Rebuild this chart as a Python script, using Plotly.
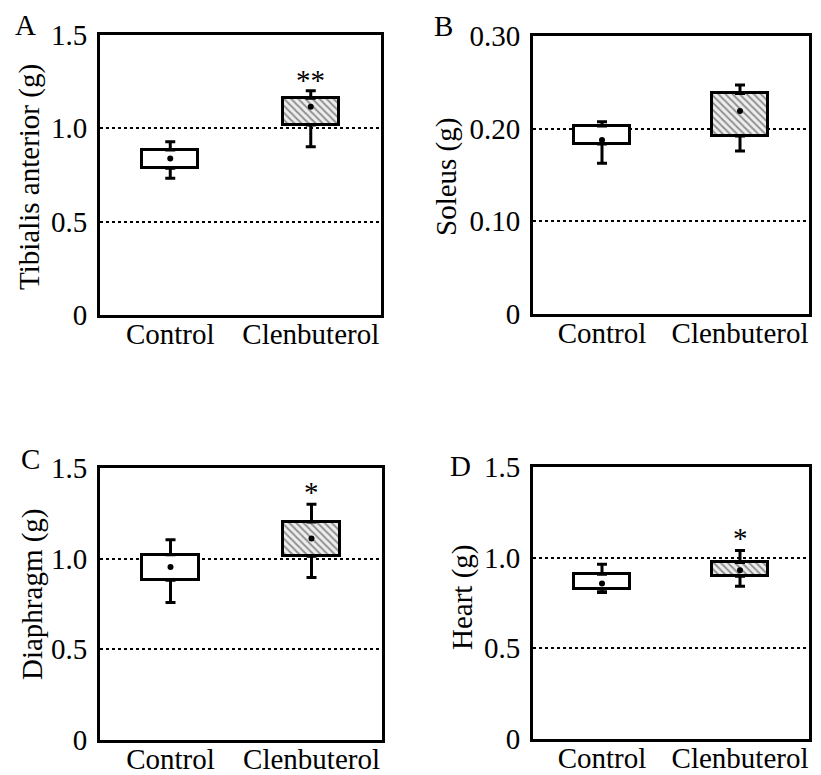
import plotly.graph_objects as go

categories = ["Control", "Clenbuterol"]

# Panel A: Tibialis anterior
ta_q1 = [0.786, 1.018]
ta_q3 = [0.884, 1.161]
ta_low = [0.732, 0.902]
ta_high = [0.928, 1.202]
ta_mean = [0.839, 1.116]

# Panel B: Soleus
so_q1 = [0.1834, 0.192]
so_q3 = [0.2029, 0.238]
so_low = [0.1626, 0.176]
so_high = [0.2075, 0.247]
so_mean = [0.1878, 0.219]

# Panel C: Diaphragm
di_q1 = [0.881, 1.013]
di_q3 = [1.022, 1.202]
di_low = [0.758, 0.896]
di_high = [1.105, 1.300]
di_mean = [0.954, 1.111]

# Panel D: Heart
he_q1 = [0.826, 0.897]
he_q3 = [0.909, 0.974]
he_low = [0.808, 0.843]
he_high = [0.964, 1.040]
he_mean = [0.857, 0.931]

ticks_std = [0, 0.5, 1.0, 1.5]
ticktext_std = ["0", "0.5", "1.0", "1.5"]
ticks_so = [0, 0.10, 0.20, 0.30]
ticktext_so = ["0", "0.10", "0.20", "0.30"]

OFF = 8  # page body margin
W, H = 821 - OFF, 775 - OFF
FONT = "Liberation Serif"
FS = 29


def px(x):
    return (x - OFF) / W


def py(y):
    return 1 - (y - OFF) / H


panels = [
    dict(letter="A", title="Tibialis anterior (g)", q1=ta_q1, q3=ta_q3, low=ta_low, high=ta_high, mean=ta_mean,
         tv=ticks_std, tt=ticktext_std, rng=[0, 1.5], box=(100, 381, 35, 315),
         star="**", star_y=1.275, title_xy=(30, 177), letter_xy=(25, 25)),
    dict(letter="B", title="Soleus (g)", q1=so_q1, q3=so_q3, low=so_low, high=so_high, mean=so_mean,
         tv=ticks_so, tt=ticktext_so, rng=[0, 0.30], box=(533, 809, 36, 314),
         star=None, star_y=None, title_xy=(447, 177), letter_xy=(443, 26)),
    dict(letter="C", title="Diaphragm (g)", q1=di_q1, q3=di_q3, low=di_low, high=di_high, mean=di_mean,
         tv=ticks_std, tt=ticktext_std, rng=[0, 1.5], box=(100, 382, 468, 740),
         star="*", star_y=1.386, title_xy=(32, 594), letter_xy=(30, 459)),
    dict(letter="D", title="Heart (g)", q1=he_q1, q3=he_q3, low=he_low, high=he_high, mean=he_mean,
         tv=ticks_std, tt=ticktext_std, rng=[0, 1.5], box=(533, 809, 467, 739),
         star="*", star_y=1.123, title_xy=(462, 598), letter_xy=(460, 466)),
]

fig = go.Figure()
annotations = []
layout = {}

for i, p in enumerate(panels):
    n = "" if i == 0 else str(i + 1)
    xa, ya = "x" + n, "y" + n
    x0, x1, y0, y1 = p["box"]
    xidx = list(range(len(categories)))
    heights = [b - a for a, b in zip(p["q1"], p["q3"])]
    fig.add_trace(go.Bar(
        x=xidx, y=heights, base=p["q1"], width=0.4,
        marker=dict(color="white", line=dict(color="black", width=3),
                    pattern=dict(shape=["", "\\"], fgcolor="#333333", bgcolor="#eeeeee",
                                 size=5, solidity=0.4)),
        xaxis=xa, yaxis=ya, showlegend=False, hoverinfo="skip"))
    fig.add_trace(go.Scatter(
        x=xidx, y=p["q3"], mode="markers", marker=dict(size=1, color="black"),
        error_y=dict(type="data", symmetric=False,
                     array=[h - q for h, q in zip(p["high"], p["q3"])],
                     arrayminus=[0] * len(xidx), thickness=3, width=5, color="black"),
        xaxis=xa, yaxis=ya, showlegend=False, hoverinfo="skip"))
    fig.add_trace(go.Scatter(
        x=xidx, y=p["q1"], mode="markers", marker=dict(size=1, color="black"),
        error_y=dict(type="data", symmetric=False,
                     array=[0] * len(xidx),
                     arrayminus=[q - l for q, l in zip(p["q1"], p["low"])], thickness=3, width=5, color="black"),
        xaxis=xa, yaxis=ya, showlegend=False, hoverinfo="skip"))
    fig.add_trace(go.Scatter(
        x=xidx, y=p["mean"], mode="markers", marker=dict(size=6, color="black"),
        xaxis=xa, yaxis=ya, showlegend=False, hoverinfo="skip"))

    layout["xaxis" + n] = dict(
        domain=[px(x0), px(x1)], anchor=ya, range=[-0.5, 1.5], automargin=False,
        tickvals=xidx, ticktext=categories, ticks="", showgrid=False, zeroline=False,
        showline=True, mirror=True, linewidth=3, linecolor="black",
        tickfont=dict(family=FONT, size=FS, color="black"), ticklabelstandoff=-9)
    layout["yaxis" + n] = dict(
        domain=[py(y1), py(y0)], anchor=xa, range=p["rng"], automargin=False,
        tickvals=p["tv"], ticktext=p["tt"], ticks="", showgrid=True, gridcolor="black",
        griddash="dot", gridwidth=2, zeroline=False,
        showline=True, mirror=True, linewidth=3, linecolor="black",
        tickfont=dict(family=FONT, size=FS, color="black"), ticklabelstandoff=4)

    tx, ty = p["title_xy"]
    annotations.append(dict(text=p["title"], x=px(tx), y=py(ty), xref="paper", yref="paper",
                            xanchor="center", yanchor="middle", textangle=-90, showarrow=False,
                            font=dict(family=FONT, size=FS, color="black")))
    lx, ly = p["letter_xy"]
    annotations.append(dict(text=p["letter"], x=px(lx), y=py(ly), xref="paper", yref="paper",
                            xanchor="center", yanchor="middle", showarrow=False,
                            font=dict(family=FONT, size=FS, color="black")))
    if p["star"]:
        annotations.append(dict(text=p["star"], x=1, y=p["star_y"], xref=xa, yref=ya,
                                xanchor="center", yanchor="middle", yshift=-3, showarrow=False,
                                font=dict(family=FONT, size=FS, color="black")))

fig.update_layout(
    width=W, height=H, margin=dict(l=0, r=0, t=0, b=0, autoexpand=False),
    paper_bgcolor="white", plot_bgcolor="white",
    annotations=annotations, bargap=0, **layout)

fig.write_html("out.html")
